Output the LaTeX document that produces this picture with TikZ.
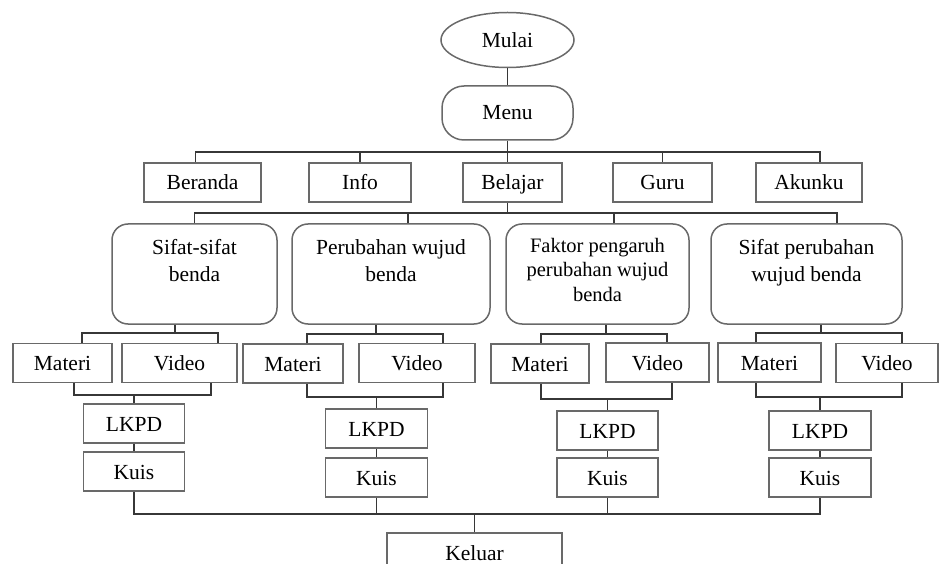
\documentclass[tikz,border=0pt]{standalone}
\usepackage{fontspec}
\setmainfont{Liberation Serif}
\usetikzlibrary{shapes.geometric, positioning, calc}

\definecolor{boxgray}{RGB}{105,105,105}
\definecolor{linegray}{RGB}{55,55,55}

\tikzset{
    box/.style={draw=boxgray, line width=1.8pt, minimum height=39pt, inner sep=0pt, text height=17pt, text depth=2pt},
    bigbox/.style={draw=boxgray, line width=1.5pt, rounded corners=16pt, minimum height=100pt},
    conn/.style={draw=linegray, line width=1.5pt},
    boxtext/.style={anchor=north, yshift=-13pt, align=center},
}

\begin{document}
\begin{tikzpicture}[x=1pt, y=-1pt, font=\fontsize{21.5}{27}\selectfont]
    \clip (0,0) rectangle (940,564);

    % start and menu
    \node[ellipse, draw=boxgray, line width=1.5pt, minimum width=133pt, minimum height=55pt] (mulai) at (507.5,40) {Mulai};
    \node[draw=boxgray, line width=1.5pt, rounded corners=22pt, minimum width=131pt, minimum height=54pt] (menu) at (507.5,113) {Menu};

    % menu items
    \node[box, minimum width=117pt] (beranda) at (202.5,182.5) {Beranda};
    \node[box, minimum width=102pt] (info) at (360,182.5) {Info};
    \node[box, minimum width=99pt] (belajar) at (512.5,182.5) {Belajar};
    \node[box, minimum width=99pt] (guru) at (662.5,182.5) {Guru};
    \node[box, minimum width=106pt] (akunku) at (809,182.5) {Akunku};

    % topics
    \node[bigbox, minimum width=165pt, label={[boxtext]north:{Sifat-sifat\\benda}}] (sifat) at (194.5,274) {};
    \node[bigbox, minimum width=198pt, label={[boxtext]north:{Perubahan wujud\\benda}}] (perubahan) at (391,274) {};
    \node[bigbox, minimum width=183pt, label={[boxtext, yshift=2pt, font=\fontsize{20.5}{24.5}\selectfont]north:{Faktor pengaruh\\perubahan wujud\\benda}}] (faktor) at (597.5,274) {};
    \node[bigbox, minimum width=191pt, label={[boxtext]north:{Sifat perubahan\\wujud benda}}] (sifatper) at (806.5,274) {};

    % materi and video
    \node[box, minimum width=99pt] (materi1) at (62.5,363) {Materi};
    \node[box, minimum width=115pt] (video1) at (179.5,363) {Video};
    \node[box, minimum width=100pt] (materi2) at (293,363.5) {Materi};
    \node[box, minimum width=116pt] (video2) at (417,363) {Video};
    \node[box, minimum width=98pt] (materi3) at (540,363.5) {Materi};
    \node[box, minimum width=103pt] (video3) at (657.5,362.5) {Video};
    \node[box, minimum width=103pt] (materi4) at (769.5,362.5) {Materi};
    \node[box, minimum width=102pt] (video4) at (887,363) {Video};

    % lkpd and kuis
    \node[box, minimum width=101pt] (lkpd1) at (134,423.5) {LKPD};
    \node[box, minimum width=101pt] (kuis1) at (134,471.5) {Kuis};
    \node[box, minimum width=102pt] (lkpd2) at (376.5,428.5) {LKPD};
    \node[box, minimum width=102pt] (kuis2) at (376.5,477.5) {Kuis};
    \node[box, minimum width=101pt] (lkpd3) at (607.5,430.5) {LKPD};
    \node[box, minimum width=101pt] (kuis3) at (607.5,477.5) {Kuis};
    \node[box, minimum width=102pt] (lkpd4) at (820,430.5) {LKPD};
    \node[box, minimum width=102pt] (kuis4) at (820,477.5) {Kuis};

    \node[box, minimum width=175pt, minimum height=40pt] (keluar) at (474.5,553) {Keluar};

    % junctions
    \coordinate (menubar) at (507.5,152);
    \coordinate (belajarbar) at (507.5,213);
    \coordinate (topbar1) at (175,333);
    \coordinate (topbar2) at (376,334);
    \coordinate (topbar3) at (606,334);
    \coordinate (topbar4) at (821,333);
    \coordinate (lowbar1) at (134,395);
    \coordinate (lowbar2) at (376.5,397);
    \coordinate (lowbar3) at (607.5,399);
    \coordinate (lowbar4) at (820,397);
    \coordinate (endbar) at (474.5,514);

    \draw[conn] (mulai) -- (menu);
    \draw[conn] (menu) -- (menubar);
    \draw[conn] ([xshift=-7pt]beranda.north) |- (menubar) -| ([xshift=11pt]akunku.north);
    \draw[conn] (info.north) -- (info.north |- menubar);
    \draw[conn] (guru.north) -- (guru.north |- menubar);
    \draw[conn] (menubar) -- (menubar |- belajar.north);

    \draw[conn] (menubar |- belajar.south) -- (belajarbar);
    \draw[conn] (sifat.north) |- (belajarbar) -| ([xshift=30.5pt]sifatper.north);
    \draw[conn] ([xshift=17pt]perubahan.north) -- ([xshift=17pt]perubahan.north |- belajarbar);
    \draw[conn] ([xshift=16.5pt]faktor.north) -- ([xshift=16.5pt]faktor.north |- belajarbar);

    \draw[conn] (topbar1 |- sifat.south) -- (topbar1);
    \draw[conn] ([xshift=19.5pt]materi1.north) |- (topbar1) -| ([xshift=38.5pt]video1.north);
    \draw[conn] (topbar2 |- perubahan.south) -- (topbar2);
    \draw[conn] ([xshift=14pt]materi2.north) |- (topbar2) -| ([xshift=26pt]video2.north);
    \draw[conn] (topbar3 |- faktor.south) -- (topbar3);
    \draw[conn] ([xshift=1pt]materi3.north) |- (topbar3) -| ([xshift=9.5pt]video3.north);
    \draw[conn] (topbar4 |- sifatper.south) -- (topbar4);
    \draw[conn] ([xshift=-13.5pt]materi4.north) |- (topbar4) -| ([xshift=15pt]video4.north);

    \draw[conn] ([xshift=11.5pt]materi1.south) |- (lowbar1) -| ([xshift=31.5pt]video1.south);
    \draw[conn] ([xshift=14pt]materi2.south) |- (lowbar2) -| ([xshift=26pt]video2.south);
    \draw[conn] ([xshift=1pt]materi3.south) |- (lowbar3) -| ([xshift=14.5pt]video3.south);
    \draw[conn] ([xshift=-13.5pt]materi4.south) |- (lowbar4) -| ([xshift=15pt]video4.south);

    \foreach \i in {1,...,4} {
        \draw[conn] (lowbar\i) -- (lkpd\i);
        \draw[conn] (lkpd\i) -- (kuis\i);
    }

    \draw[conn] (kuis1.south) |- (endbar) -| (kuis4.south);
    \draw[conn] (kuis2.south) -- (kuis2.south |- endbar);
    \draw[conn] (kuis3.south) -- (kuis3.south |- endbar);
    \draw[conn] (endbar) -- (keluar);
\end{tikzpicture}
\end{document}
